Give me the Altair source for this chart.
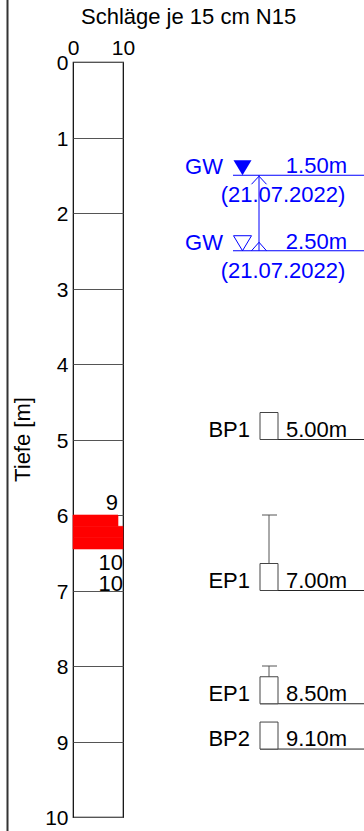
import altair as alt
import pandas as pd

# ---------------- data ----------------
depth_top = [6.0, 6.15, 6.30]
depth_bottom = [6.15, 6.30, 6.45]
blows = [9, 10, 10]
blow_label_depth = [5.93, 6.73, 7.0]

x_ticks = [0, 10]
y_ticks = [0, 1, 2, 3, 4, 5, 6, 7, 8, 9, 10]

gw_depth = [1.5, 2.5]
gw_text = ["1.50m", "2.50m"]
gw_date = ["(21.07.2022)", "(21.07.2022)"]
gw_name = ["GW", "GW"]

sample_name = ["BP1", "EP1", "EP1", "BP2"]
sample_depth = [5.0, 7.0, 8.5, 9.1]
sample_text = ["5.00m", "7.00m", "8.50m", "9.10m"]
range_from = [6.0, 8.0]
range_to = [7.0, 8.5]

title_text = "Schläge je 15 cm N15"
y_title = "Tiefe [m]"

FONT = "Liberation Sans"
BLUE = "#0000ff"
FS = 22

bars_df = pd.DataFrame({"top": depth_top, "bottom": depth_bottom, "blows": blows,
                        "ldepth": blow_label_depth, "label": [str(b) for b in blows]})
gw_df = pd.DataFrame({"depth": gw_depth, "txt": gw_text, "date": gw_date, "name": gw_name})
gw_top_df = gw_df.iloc[[0]]
gw_bot_df = gw_df.iloc[[1]]
conn_df = pd.DataFrame({"a": [gw_depth[0]], "b": [gw_depth[1]]})
samp_df = pd.DataFrame({"depth": sample_depth, "name": sample_name, "txt": sample_text})
range_df = pd.DataFrame({"a": range_from, "b": range_to})
dummy = pd.DataFrame({"k": [0]})

ysc = alt.Scale(domain=[0, 10], reverse=True, nice=False, zero=False)
xsc = alt.Scale(domain=[0, 10], nice=False, zero=False)

x_axis = alt.Axis(orient="top", values=x_ticks, title=None, ticks=False, domain=False,
                  grid=False, labelFontSize=FS - 1, labelPadding=4, labelFont=FONT,
                  labelColor="black", labelAngle=0, labelFlush=False, labelOverlap=False)
y_axis = alt.Axis(orient="left", values=y_ticks, title=y_title, ticks=False, domain=False,
                  grid=True, gridColor="#555", gridWidth=1, gridOpacity=1,
                  labelFontSize=FS - 1, labelFont=FONT, labelColor="black", labelPadding=5,
                  labelOffset=1.5, labelFlush=False, labelOverlap=False,
                  titleFont=FONT, titleFontSize=FS, titleFontWeight="normal",
                  titleColor="black", titleX=-51, titleY=377, titleAngle=-90,
                  titleAlign="center", titleBaseline="middle")

def Y(field):
    return alt.Y(field, type="quantitative", scale=ysc, axis=y_axis)

bars = alt.Chart(bars_df).mark_rect(color="#ff0000", stroke="#ff0000", strokeWidth=0.6).transform_calculate(start="0").encode(
    x=alt.X("start:Q", scale=xsc, axis=x_axis),
    x2="blows:Q",
    y=Y("top"),
    y2="bottom:Q",
)

blow_txt = alt.Chart(bars_df).mark_text(align="right", baseline="alphabetic", fontSize=FS,
                                        font=FONT, color="black").encode(
    x=alt.X("blows:Q", scale=xsc, axis=x_axis), y=Y("ldepth"), text="label:N")

frame = alt.Chart(dummy).mark_rule(color="#333", strokeWidth=2).encode(
    x=alt.value(-65.5), y=alt.value(-62), y2=alt.value(769))

title = alt.Chart(dummy).mark_text(align="left", baseline="alphabetic", fontSize=FS,
                                   font=FONT, color="black").encode(
    x=alt.value(8), y=alt.value(-38), text=alt.value(title_text))

# groundwater
gw_line = alt.Chart(gw_df).mark_rule(color=BLUE, strokeWidth=1).encode(
    x=alt.value(160), x2=alt.value(291), y=Y("depth"))
gw_tri_fill = alt.Chart(gw_top_df).mark_point(shape="M-1,-1.67L1,-1.67L0,0Z", size=324,
                                              filled=True, color=BLUE, opacity=1).encode(
    x=alt.value(169.5), y=Y("depth"))
gw_tri_open = alt.Chart(gw_bot_df).mark_point(shape="M-1,-1.67L1,-1.67L0,0Z", size=324,
                                              filled=False, color=BLUE, opacity=1,
                                              strokeWidth=1).encode(
    x=alt.value(169.5), y=Y("depth"))
gw_name_t = alt.Chart(gw_df).mark_text(align="right", baseline="alphabetic", dy=-1,
                                       fontSize=FS, font=FONT, color=BLUE).encode(
    x=alt.value(150), y=Y("depth"), text="name:N")
gw_val_t = alt.Chart(gw_df).mark_text(align="right", baseline="alphabetic", dy=-2,
                                      fontSize=FS, font=FONT, color=BLUE).encode(
    x=alt.value(274), y=Y("depth"), text="txt:N")
gw_date_t = alt.Chart(gw_df).mark_text(align="center", baseline="alphabetic", dy=27,
                                       fontSize=FS, font=FONT, color=BLUE).encode(
    x=alt.value(210), y=Y("depth"), text="date:N")
gw_conn = alt.Chart(conn_df).mark_rule(color=BLUE, strokeWidth=1).encode(
    x=alt.value(186), y=Y("a"), y2="b:Q")
chev_top = alt.Chart(gw_top_df).mark_point(shape="M-1,1.2L0,0.13L1,1.2", size=225,
                                           filled=False, color=BLUE, opacity=1,
                                           strokeWidth=1).encode(
    x=alt.value(186), y=Y("depth"))
chev_bot = alt.Chart(gw_bot_df).mark_point(shape="M-1,0L0,-1.13L1,0", size=225,
                                           filled=False, color=BLUE, opacity=1,
                                           strokeWidth=1).encode(
    x=alt.value(186), y=Y("depth"))

# samples
s_line = alt.Chart(samp_df).mark_rule(color="#222", strokeWidth=1).encode(
    x=alt.value(187), x2=alt.value(291), y=Y("depth"))
r_line = alt.Chart(range_df).mark_rule(color="#555", strokeWidth=1).encode(
    x=alt.value(196), y=Y("a"), y2="b:Q")
r_tick = alt.Chart(range_df).mark_rule(color="#555", strokeWidth=1).encode(
    x=alt.value(189), x2=alt.value(204), y=Y("a"))
s_box = alt.Chart(samp_df).mark_point(shape="M-1,0L-1,-3L1,-3L1,0Z", size=324, filled=True,
                                      fill="white", stroke="#444", strokeWidth=1,
                                      opacity=1).encode(
    x=alt.value(196), y=Y("depth"))
s_name = alt.Chart(samp_df).mark_text(align="right", baseline="alphabetic", dy=-3,
                                      fontSize=FS, font=FONT, color="black").encode(
    x=alt.value(177), y=Y("depth"), text="name:N")
s_txt = alt.Chart(samp_df).mark_text(align="left", baseline="alphabetic", dy=-3,
                                     fontSize=FS, font=FONT, color="black").encode(
    x=alt.value(213), y=Y("depth"), text="txt:N")

chart = alt.layer(
    bars, blow_txt, frame, title,
    gw_line, gw_conn, chev_top, chev_bot, gw_tri_fill, gw_tri_open, gw_name_t, gw_val_t, gw_date_t,
    r_line, r_tick, s_line, s_box, s_name, s_txt,
).properties(
    width=50, height=755,
    background="white",
    padding={"left": 73, "top": 62, "right": 241, "bottom": 14},
    autosize=alt.AutoSizeParams(type="none"),
).configure_view(stroke="black", strokeWidth=1.2)

chart.save("out.html", embed_options={"renderer": "svg", "actions": False})
